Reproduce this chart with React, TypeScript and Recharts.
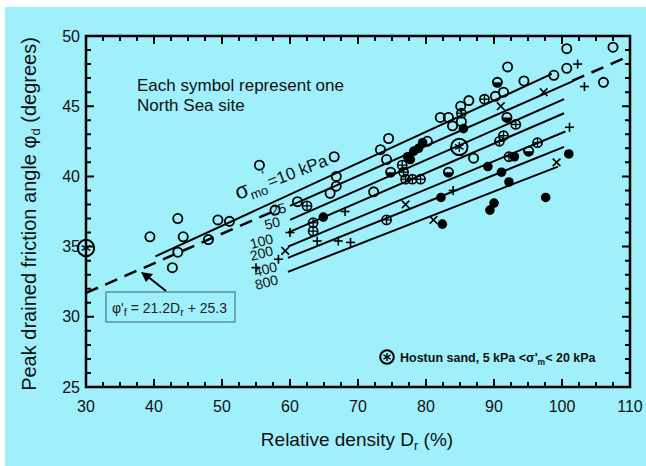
import { ComposedChart, XAxis, YAxis, Line, Scatter, ReferenceArea } from 'recharts';

const W = 646;
const H = 466;
const M = { top: 36, right: 16, bottom: 49, left: 26 };
const Y_AXIS_W = 60;
const X_AXIS_H = 30;
const BG = '#9ff0fb';
const FONT = '"Liberation Sans", Arial, sans-serif';

// plot frame, as laid out by the margins and axis sizes above
const PL = M.left + Y_AXIS_W;
const PR = W - M.right;
const PT = M.top;
const PB = H - M.bottom - X_AXIS_H;

// axis ticks
const X_DOMAIN = [30, 110];
const Y_DOMAIN = [25, 50];
const xTicks = Array.from({ length: 33 }, (_, i) => 30 + i * 2.5);
const yTicks = Array.from({ length: 26 }, (_, i) => 25 + i);

// sigma'mo lines (kPa), two end points each
const sigmaLevels = ['10', '25', '50', '100', '200', '400', '800'];
const sigmaLines: [number, number][][] = [
  [[40.2, 34.3], [98.5, 47.3]],
  [[60.0, 37.9], [101.7, 46.8]],
  [[60.0, 36.9], [100.3, 45.5]],
  [[59.7, 36.0], [100.3, 44.5]],
  [[59.7, 35.0], [100.5, 43.2]],
  [[59.7, 34.2], [100.3, 42.1]],
  [[59.7, 33.2], [99.4, 40.7]],
];

// fitted line phi'f = 21.2Dr + 25.3 (drawn in two dashed pieces)
const fitLow: [number, number][] = [[30, 31.7], [57.5, 37.5]];
const fitHigh: [number, number][] = [[101.5, 46.8], [110, 48.6]];

// North Sea sites, by symbol
const openPts: [number, number][] = [
  [39.4, 35.7], [43.5, 37.0], [44.3, 35.7], [43.5, 34.6], [42.7, 33.5], [48.0, 35.5],
  [49.4, 36.9], [51.1, 36.8], [55.5, 40.8], [57.8, 37.6], [61.1, 38.2], [66.5, 41.4],
  [66.8, 40.0], [66.8, 39.3], [65.9, 38.8], [72.3, 38.9], [73.3, 41.9], [74.5, 42.7],
  [74.2, 41.2], [80.2, 42.5], [82.1, 44.2], [83.3, 44.2], [83.9, 43.6], [85.2, 43.9],
  [86.3, 45.4], [85.1, 45.0], [90.2, 45.7], [91.4, 46.0], [94.4, 46.8], [92.0, 47.8],
  [98.8, 47.2], [100.7, 47.7], [100.7, 49.1], [107.5, 49.2], [106.1, 46.7], [87.0, 41.3],
];
const crossedPts: [number, number][] = [
  [62.5, 37.9], [63.4, 36.7], [63.4, 36.1], [76.5, 40.8], [76.7, 40.3], [77.0, 39.8],
  [78.0, 39.8], [79.2, 39.8], [74.2, 36.9], [88.6, 45.5], [85.2, 44.5], [93.2, 43.7],
  [91.4, 42.9], [90.8, 42.5], [96.4, 42.4], [92.2, 41.4],
];
const halfPts: [number, number][] = [
  [74.8, 40.3], [90.5, 46.7], [83.3, 40.3], [95.1, 41.8], [91.9, 44.2],
];
const filledPts: [number, number][] = [
  [77.3, 41.4], [78.2, 41.8], [78.9, 42.0], [79.5, 42.4], [77.7, 41.2], [85.5, 43.4],
  [64.9, 37.1], [82.2, 38.5], [82.4, 36.6], [93.0, 41.4], [101.0, 41.6], [89.1, 40.7],
  [91.1, 40.3], [92.2, 39.6], [90.0, 38.1], [89.4, 37.6], [97.6, 38.5],
];
const plusPts: [number, number][] = [
  [60.0, 36.0], [68.1, 37.5], [64.0, 35.4], [67.1, 35.4], [68.9, 35.3], [55.0, 33.5],
  [58.3, 34.1], [102.3, 48.0], [103.3, 46.4], [101.1, 43.5], [84.0, 39.0],
];
const xPts: [number, number][] = [
  [59.3, 34.7], [77.0, 38.0], [81.1, 36.9], [91.0, 45.0], [97.3, 46.0], [99.2, 41.0],
];
const hostunPts: [number, number][] = [[30, 34.9], [84.9, 42.1]];

const toXY = (pts: [number, number][]) => pts.map(([x, y]) => ({ x, y }));

const Open = ({ cx, cy }: any) => <circle cx={cx} cy={cy} r={4.6} fill="none" stroke="#000" strokeWidth={1.8} />;
const Crossed = ({ cx, cy }: any) => (
  <g stroke="#000" strokeWidth={1.3} fill="none">
    <circle cx={cx} cy={cy} r={4.6} strokeWidth={1.6} />
    <line x1={cx - 4.6} y1={cy} x2={cx + 4.6} y2={cy} />
    <line x1={cx} y1={cy - 4.6} x2={cx} y2={cy + 4.6} />
  </g>
);
const Half = ({ cx, cy }: any) => (
  <g>
    <circle cx={cx} cy={cy} r={4.6} fill="none" stroke="#000" strokeWidth={1.8} />
    <path d={`M${cx - 4.6},${cy} A4.6,4.6 0 0 0 ${cx + 4.6},${cy} Z`} fill="#000" />
  </g>
);
const Filled = ({ cx, cy }: any) => <circle cx={cx} cy={cy} r={4.8} fill="#000" />;
const Plus = ({ cx, cy }: any) => (
  <g stroke="#000" strokeWidth={1.6}>
    <line x1={cx - 4.5} y1={cy} x2={cx + 4.5} y2={cy} />
    <line x1={cx} y1={cy - 4.5} x2={cx} y2={cy + 4.5} />
  </g>
);
const Cross = ({ cx, cy }: any) => (
  <g stroke="#000" strokeWidth={1.6}>
    <line x1={cx - 3.8} y1={cy - 3.8} x2={cx + 3.8} y2={cy + 3.8} />
    <line x1={cx - 3.8} y1={cy + 3.8} x2={cx + 3.8} y2={cy - 3.8} />
  </g>
);
const Hostun = ({ cx, cy, r = 8.2 }: any) => {
  const a = r * 0.6;
  return (
    <g stroke="#000" fill="none">
      <circle cx={cx} cy={cy} r={r} strokeWidth={2} />
      <line x1={cx} y1={cy - a} x2={cx} y2={cy + a} strokeWidth={1.4} />
      <line x1={cx - a * 0.87} y1={cy - a * 0.5} x2={cx + a * 0.87} y2={cy + a * 0.5} strokeWidth={1.4} />
      <line x1={cx - a * 0.87} y1={cy + a * 0.5} x2={cx + a * 0.87} y2={cy - a * 0.5} strokeWidth={1.4} />
    </g>
  );
};

const tickFont = { fontSize: 16, fill: '#111', fontFamily: FONT };
const xFmt = (v: number) => (v % 10 === 0 ? String(v) : '');
const yFmt = (v: number) => (v % 5 === 0 ? String(v) : '');

// inward frame ticks, same linear mapping as the chart's axes
const xPx = (v: number) => PL + ((v - X_DOMAIN[0]) / (X_DOMAIN[1] - X_DOMAIN[0])) * (PR - PL);
const yPx = (v: number) => PB - ((v - Y_DOMAIN[0]) / (Y_DOMAIN[1] - Y_DOMAIN[0])) * (PB - PT);
const frameTicks = [
  ...xTicks.map((v) => {
    const x = xPx(v);
    const len = v % 10 === 0 ? 8 : 5;
    return `M${x},${PB}V${PB - len}M${x},${PT}V${PT + len}`;
  }),
  ...yTicks.map((v) => {
    const y = yPx(v);
    const len = v % 5 === 0 ? 8 : 5;
    return `M${PL},${y}H${PL + len}M${PR},${y}H${PR - len}`;
  }),
].join('');

const sigmaLabelPos = [
  null,
  [287, 212],
  [281, 226],
  [274, 243],
  [274, 255],
  [278, 271],
  [279, 284],
];

export default function App() {
  return (
    <div style={{ position: 'absolute', left: 0, top: 0, width: W, height: H, background: '#fff' }}>
      <div style={{ position: 'absolute', left: 5, top: 7, right: 0, bottom: 0, background: BG }} />
      <div style={{ position: 'absolute', left: 0, top: 0 }}>
        <ComposedChart width={W} height={H} margin={M}>
          <XAxis
            dataKey="x"
            type="number"
            domain={X_DOMAIN}
            ticks={xTicks}
            interval={0}
            tickSize={0}
            tickMargin={14}
            axisLine={false}
            tickLine={false}
            tick={tickFont}
            tickFormatter={xFmt}
            height={X_AXIS_H}
          />
          <YAxis
            dataKey="y"
            type="number"
            domain={Y_DOMAIN}
            ticks={yTicks}
            interval={0}
            tickSize={0}
            tickMargin={6}
            axisLine={false}
            tickLine={false}
            tick={tickFont}
            tickFormatter={yFmt}
            width={Y_AXIS_W}
          />
          <ReferenceArea x1={30} x2={110} y1={25} y2={50} fill="none" stroke="#000" strokeWidth={2.5} ifOverflow="visible" />
          {sigmaLines.map((seg, i) => (
            <Line
              key={sigmaLevels[i]}
              data={toXY(seg)}
              dataKey="y"
              type="linear"
              stroke="#000"
              strokeWidth={2}
              dot={false}
              activeDot={false}
              isAnimationActive={false}
            />
          ))}
          <Line data={toXY(fitLow)} dataKey="y" type="linear" stroke="#000" strokeWidth={2.5} strokeDasharray="13 8" dot={false} activeDot={false} isAnimationActive={false} />
          <Line data={toXY(fitHigh)} dataKey="y" type="linear" stroke="#000" strokeWidth={2.5} strokeDasharray="13 8" dot={false} activeDot={false} isAnimationActive={false} />
          <Scatter data={toXY(openPts)} shape={(p: any) => <Open {...p} />} isAnimationActive={false} />
          <Scatter data={toXY(crossedPts)} shape={(p: any) => <Crossed {...p} />} isAnimationActive={false} />
          <Scatter data={toXY(halfPts)} shape={(p: any) => <Half {...p} />} isAnimationActive={false} />
          <Scatter data={toXY(filledPts)} shape={(p: any) => <Filled {...p} />} isAnimationActive={false} />
          <Scatter data={toXY(plusPts)} shape={(p: any) => <Plus {...p} />} isAnimationActive={false} />
          <Scatter data={toXY(xPts)} shape={(p: any) => <Cross {...p} />} isAnimationActive={false} />
          <Scatter data={toXY(hostunPts)} shape={(p: any) => <Hostun {...p} />} isAnimationActive={false} />
        </ComposedChart>
      </div>
      <svg width={W} height={H} style={{ position: 'absolute', left: 0, top: 0, pointerEvents: 'none' }} fontFamily={FONT}>
        <path d={frameTicks} stroke="#000" strokeWidth={2} fill="none" />

        <text x={137} y={91} fontSize={17} fill="#111">Each symbol represent one</text>
        <text x={137} y={111} fontSize={17} fill="#111">North Sea site</text>

        <text transform="translate(238,200) rotate(-21)" fill="#111">
          <tspan fontSize={22}>σ</tspan>
          <tspan fontSize={13} dy={5}>mo</tspan>
          <tspan fontSize={14} dy={-14}>'</tspan>
          <tspan fontSize={17} dy={9}>=10 kPa</tspan>
        </text>
        {sigmaLevels.map((s, i) =>
          sigmaLabelPos[i] ? (
            <text
              key={s}
              transform={`translate(${sigmaLabelPos[i]![0]},${sigmaLabelPos[i]![1]}) rotate(-15)`}
              textAnchor="end"
              fontSize={14}
              fill="#111"
            >
              {s}
            </text>
          ) : null
        )}

        <rect x={106} y={292} width={129} height={30} fill="none" stroke="#4b7d82" strokeWidth={1.2} />
        <text x={112} y={313} fontSize={14} fill="#222">
          <tspan>φ'</tspan>
          <tspan fontSize={11} dy={3}>f</tspan>
          <tspan dy={-3}>{'  = 21.2D'}</tspan>
          <tspan fontSize={11} dy={3}>r</tspan>
          <tspan dy={-3}>{'  + 25.3'}</tspan>
        </text>
        <line x1={166} y1={291} x2={147} y2={276} stroke="#000" strokeWidth={2} />
        <polygon points="141,272 153,274 146,282" fill="#000" />

        <Hostun cx={387} cy={357} r={6.8} />
        <text x={400} y={362} fontSize={12.5} fontWeight="bold" fill="#111">
          <tspan>Hostun sand, 5 kPa &lt;σ'</tspan>
          <tspan fontSize={8.5} dy={3}>m</tspan>
          <tspan dy={-3}>&lt; 20 kPa</tspan>
        </text>

        <text x={357} y={446} textAnchor="middle" fontSize={19} fill="#111">
          <tspan>Relative density D</tspan>
          <tspan fontSize={13} dy={4}>r</tspan>
          <tspan dy={-4}> (%)</tspan>
        </text>
        <text transform="translate(36,214) rotate(-90)" textAnchor="middle" fontSize={20} fill="#111">
          <tspan>Peak drained friction angle φ</tspan>
          <tspan fontSize={13} dy={4}>d</tspan>
          <tspan dy={-4}> (degrees)</tspan>
        </text>
      </svg>
    </div>
  );
}
